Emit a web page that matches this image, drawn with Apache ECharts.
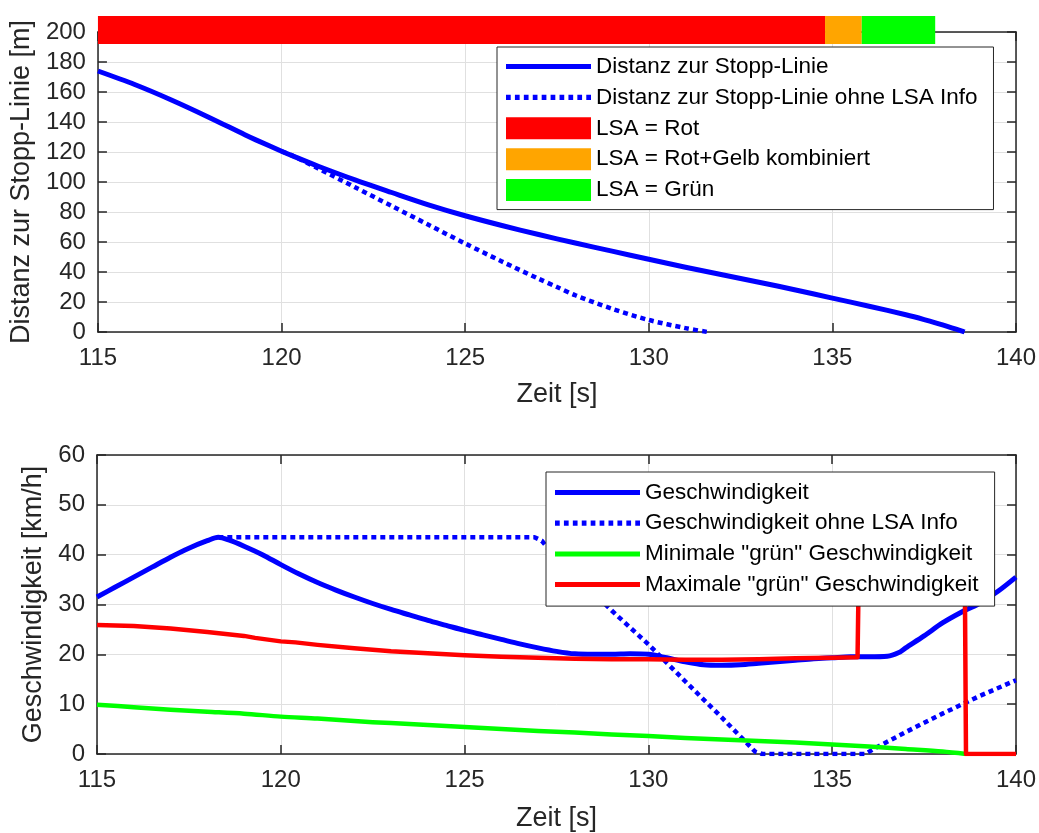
<!DOCTYPE html>
<html><head><meta charset="utf-8">
<script src="https://cdn.jsdelivr.net/npm/echarts@6/dist/echarts.min.js"></script>
<style>html,body{margin:0;padding:0;background:#fff}#c{width:1039px;height:833px}</style>
</head><body><div id="c"></div>
<script>
// ---- data ----
const distanz = [[115,174],[116,165],[117,154.7],[118,143.4],[119,131.5],[119.3,128.1],[120,120.5],[120.4,116.4],[121,110.5],[122,101.4],[123,93],[124,84.8],[125,77.5],[126,71],[127,65],[128,59.3],[129,53.9],[130,48.5],[131,43.2],[132,38.2],[133,33.2],[134,28],[135,22.6],[136,17.2],[137,11.5],[137.5,8.3],[138,4.8],[138.6,0]];
const distanzOhne = [[120,120.5],[120.4,116.4],[121,109],[122,96.5],[123,84],[124,71.5],[125,59],[126,47],[127,35.5],[127.5,30],[128,24.5],[129,15.5],[130,8],[131,2.6],[131.6,0]];
const lsaNames = ['LSA = Rot','LSA = Rot+Gelb kombiniert','LSA = Grün'];
const lsaStart = [115,134.8,135.8];
const lsaEnd = [134.8,135.8,137.8];
const lsaColors = ['#ff0000','#ffa500','#00ff00'];
const lsaBand = [192,210.7];
const speed = [[115,31.5],[115.5,33.5],[116,35.5],[116.5,37.5],[117,39.5],[117.5,41.3],[118,42.8],[118.3,43.5],[118.6,42.9],[119,41.7],[119.5,40.0],[120,38.0],[120.5,36.1],[121,34.4],[121.5,32.9],[122,31.5],[122.5,30.2],[123,29.0],[123.5,27.9],[124,26.8],[124.5,25.8],[125,24.8],[125.5,23.9],[126,23],[126.5,22.1],[127,21.3],[127.5,20.6],[128,20.1],[128.5,20],[129,20],[129.5,20.1],[130,20],[130.5,19.3],[131,18.5],[131.5,17.9],[132,17.8],[132.5,17.9],[133,18.2],[133.5,18.5],[134,18.8],[134.5,19.1],[135,19.3],[135.5,19.5],[136,19.5],[136.5,19.6],[136.8,20.3],[137,21.3],[137.5,23.7],[138,26.3],[138.5,28.4],[139,30.2],[139.5,32.6],[140,35.5]];
const speedOhne = [[118.3,43.5],[126.9,43.5],[127.1,42.8],[127.3,41],[128,36],[129,28.8],[130,22],[131,14.6],[132,7.3],[132.9,0.5],[133.1,0],[135.9,0],[136.2,1.3],[137,4.4],[138,8.1],[139,11.6],[140,14.8]];
const minGruen = [[115,9.9],[116,9.4],[117,8.9],[118,8.5],[119,8.1],[120,7.5],[121,7.1],[122,6.6],[123,6.2],[124,5.8],[125,5.4],[126,5.0],[127,4.6],[128,4.3],[129,3.9],[130,3.6],[131,3.2],[132,2.9],[133,2.6],[134,2.3],[135,1.9],[136,1.5],[137,1.0],[138,0.5],[138.64,0]];
const maxGruen = [[115,25.9],[116,25.7],[117,25.2],[118,24.5],[119,23.7],[119.3,23.3],[120,22.6],[120.4,22.4],[121,21.9],[122,21.2],[123,20.6],[124,20.2],[125,19.8],[126,19.5],[127,19.3],[128,19.1],[129,19.0],[130,19.0],[131,18.9],[132,18.9],[133,19.0],[134,19.2],[135,19.3],[135.69,19.4],[135.74,45],[138.6,45],[138.64,0],[140,0]];
const xTickMin = 115, xTickMax = 140, xTickStep = 5;

// ---- styles ----
const FONT = 'Liberation Sans';
const AX = '#262626';
const axisLineStyle = {color: AX, width: 1.5};
const gridLine = {show: true, lineStyle: {color: '#e0e0e0', width: 1}};
const tickLbl = {color: AX, fontFamily: FONT, fontSize: 24};
const nameStyle = {color: AX, fontFamily: FONT, fontSize: 27};

const solidIcon = 'path://M0,0H85V5H0Z';
let dottedIcon = 'path://';
for (let i = 0; i < 10; i++) dottedIcon += 'M' + (i * 8.5) + ',0h4.5v5h-4.5Z';

function xAxes(g, gap) {
  return [
    {gridIndex: g, type: 'value', min: xTickMin, max: xTickMax, interval: xTickStep, position: 'bottom',
     axisLine: {onZero: false, lineStyle: axisLineStyle}, axisTick: {inside: true, length: 9, lineStyle: axisLineStyle},
     axisLabel: Object.assign({margin: 14}, tickLbl), splitLine: gridLine,
     name: 'Zeit [s]', nameLocation: 'middle', nameGap: gap, nameTextStyle: nameStyle},
    {gridIndex: g, type: 'value', min: xTickMin, max: xTickMax, interval: xTickStep, position: 'top',
     axisLine: {onZero: false, lineStyle: axisLineStyle}, axisTick: {inside: true, length: 9, lineStyle: axisLineStyle},
     axisLabel: {show: false}, splitLine: {show: false}}
  ];
}
function yAxes(g, max, step, name, gap) {
  return [
    {gridIndex: g, type: 'value', min: 0, max: max, interval: step, position: 'left',
     axisLine: {show: true, onZero: false, lineStyle: axisLineStyle}, axisTick: {show: true, inside: true, length: 9, lineStyle: axisLineStyle},
     axisLabel: Object.assign({margin: 12}, tickLbl), splitLine: gridLine,
     name: name, nameLocation: 'middle', nameGap: gap, nameTextStyle: nameStyle},
    {gridIndex: g, type: 'value', min: 0, max: max, interval: step, position: 'right',
     axisLine: {show: true, onZero: false, lineStyle: axisLineStyle}, axisTick: {show: true, inside: true, length: 9, lineStyle: axisLineStyle},
     axisLabel: {show: false}, splitLine: {show: false}}
  ];
}

function lineSeries(name, data, xi, yi, color, width, dotted, z, smooth) {
  return {type: 'line', name: name, data: data, xAxisIndex: xi, yAxisIndex: yi, symbol: 'none',
    showSymbol: false, animation: false, z: z || 3, color: color,
    smooth: smooth ? 0.3 : false,
    lineStyle: {color: color, width: width, type: dotted ? [5, 4] : 'solid', cap: 'butt', join: 'round'}};
}

const lsaSeries = lsaNames.map((n, i) => ({
  type: 'custom', name: n, xAxisIndex: 0, yAxisIndex: 0, clip: false, z: 5,
  itemStyle: {color: lsaColors[i]}, color: lsaColors[i],
  encode: {x: [0, 1], y: [2, 3]},
  data: [[lsaStart[i], lsaEnd[i], lsaBand[0], lsaBand[1]]],
  renderItem: function (params, api) {
    const p0 = api.coord([api.value(0), api.value(3)]);
    const p1 = api.coord([api.value(1), api.value(2)]);
    return {type: 'rect', shape: {x: p0[0], y: p0[1], width: p1[0] - p0[0], height: p1[1] - p0[1]},
      style: {fill: lsaColors[i]}};
  }
}));

const legendCommon = {orient: 'vertical', itemWidth: 85, itemHeight: 22, borderColor: AX, borderWidth: 1,
  backgroundColor: '#ffffff', selectedMode: false, z: 10, itemStyle: {borderWidth: 0},
  textStyle: {color: '#000', fontFamily: FONT, fontSize: 22.5, lineHeight: 22}};

const option = {
  animation: false,
  grid: [
    {left: 97, right: 22, top: 32, height: 300},
    {left: 97, right: 22, top: 455, height: 299}
  ],
  xAxis: [].concat(xAxes(0, 49), xAxes(1, 51)),
  yAxis: [].concat(yAxes(0, 200, 20, 'Distanz zur Stopp-Linie [m]', 61), yAxes(1, 60, 10, 'Geschwindigkeit [km/h]', 40)),
  legend: [
    Object.assign({}, legendCommon, {left: 497, top: 47, padding: [8, 16, 8, 9], itemGap: 7.9,
      data: [{name: 'Distanz zur Stopp-Linie', icon: solidIcon}, {name: 'Distanz zur Stopp-Linie ohne LSA Info', icon: dottedIcon}]
        .concat(lsaNames.map(n => ({name: n, icon: 'rect'})))}),
    Object.assign({}, legendCommon, {left: 546, top: 472, padding: [9, 16, 10, 9], itemGap: 7.7,
      data: [{name: 'Geschwindigkeit', icon: solidIcon}, {name: 'Geschwindigkeit ohne LSA Info', icon: dottedIcon},
        {name: 'Minimale "grün" Geschwindigkeit', icon: solidIcon}, {name: 'Maximale "grün" Geschwindigkeit', icon: solidIcon}]})
  ],
  series: [
    lineSeries('Distanz zur Stopp-Linie ohne LSA Info', distanzOhne, 0, 0, '#0000ff', 4.5, true, 3, true),
    lineSeries('Distanz zur Stopp-Linie', distanz, 0, 0, '#0000ff', 5, false, 4, true)
  ].concat(lsaSeries, [
    lineSeries('Geschwindigkeit ohne LSA Info', speedOhne, 2, 2, '#0000ff', 4.5, true, 3, false),
    lineSeries('Minimale "grün" Geschwindigkeit', minGruen, 2, 2, '#00ff00', 4.5, false, 3, true),
    lineSeries('Geschwindigkeit', speed, 2, 2, '#0000ff', 5, false, 3, true),
    lineSeries('Maximale "grün" Geschwindigkeit', maxGruen, 2, 2, '#ff0000', 4.5, false, 4, false)
  ])
};
const chart = echarts.init(document.getElementById('c'), null, {renderer: 'canvas'});
chart.setOption(option);
</script></body></html>
